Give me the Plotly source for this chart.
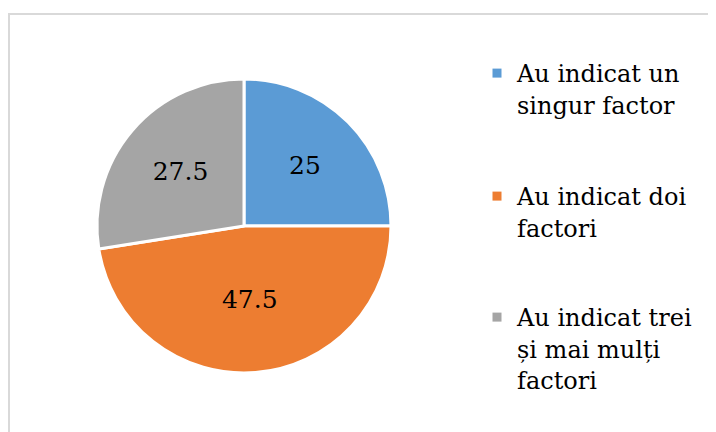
import plotly.graph_objects as go

labels = ["Au indicat un singur factor", "Au indicat doi factori", "Au indicat trei și mai mulți factori"]
legend_text = ["Au indicat un<br>singur factor", "Au indicat doi<br>factori", "Au indicat trei<br>și mai mulți<br>factori"]
values = [25, 47.5, 27.5]
colors = ["#5B9BD5", "#ED7D31", "#A5A5A5"]

W, H = 716, 432
SERIF = "DejaVu Serif"

fig = go.Figure()
fig.add_trace(go.Pie(
    labels=labels,
    values=values,
    sort=False,
    direction="clockwise",
    rotation=0,
    marker=dict(colors=colors, line=dict(color="white", width=3)),
    textinfo="value",
    textposition="inside",
    insidetextorientation="horizontal",
    textfont=dict(family=SERIF, size=25, color="black"),
    domain=dict(x=[89 / W, 383 / W], y=[1 - 365 / H, 1 - 71 / H]),
    hoverinfo="label+value",
    showlegend=False,
))

legend_names = ["legend", "legend2", "legend3"]
legend_tops = [43, 166, 287]
for name, txt, col in zip(legend_names, legend_text, colors):
    fig.add_trace(go.Scatter(
        x=[None], y=[None], mode="markers", name=txt,
        marker=dict(symbol="square", size=9, color=col),
        legend=name, showlegend=True, hoverinfo="skip",
    ))

layout_legends = {}
for name, top in zip(legend_names, legend_tops):
    layout_legends[name] = dict(x=469 / W, y=1 - top / H, xanchor="left", yanchor="top", valign="top",
                                font=dict(family=SERIF, size=24, color="black"), bgcolor="rgba(0,0,0,0)")

fig.update_layout(
    width=W, height=H,
    margin=dict(l=0, r=0, t=0, b=0),
    paper_bgcolor="white",
    plot_bgcolor="white",
    xaxis=dict(visible=False),
    yaxis=dict(visible=False),
    shapes=[dict(type="rect", xref="paper", yref="paper",
                 x0=1 / W, x1=1.02, y0=-0.05, y1=1 - 6 / H,
                 line=dict(color="#D9D9D9", width=2), fillcolor="rgba(0,0,0,0)",
                 layer="below")],
    **layout_legends,
)

fig.write_html("out.html")
